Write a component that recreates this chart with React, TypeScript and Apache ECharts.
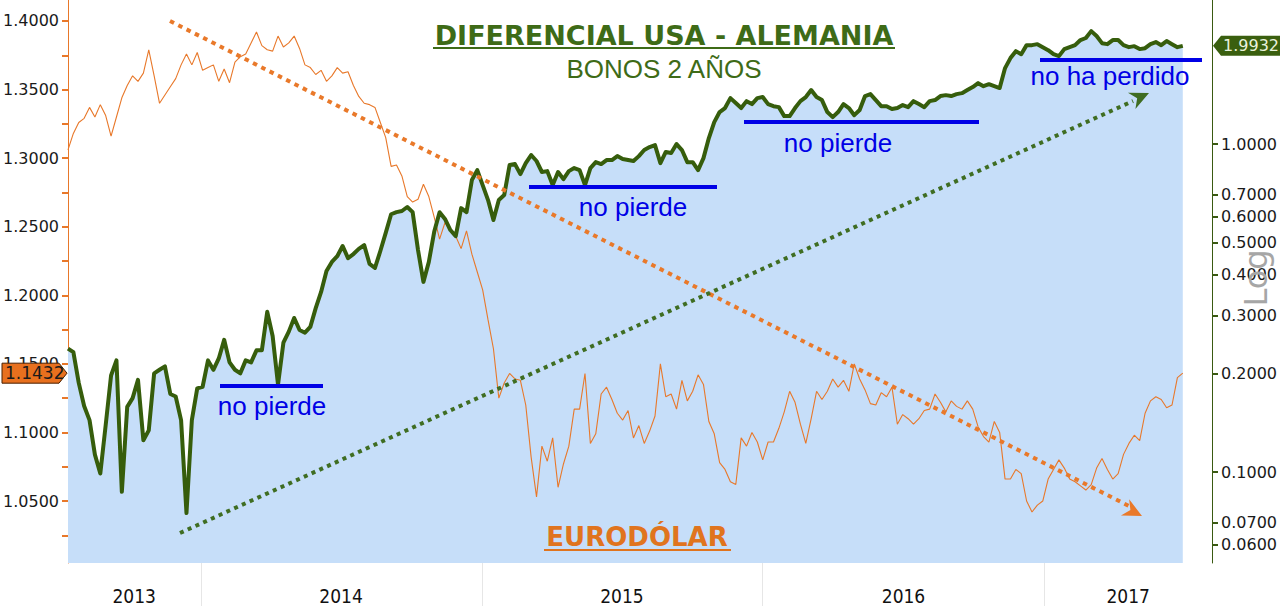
import React, { useEffect, useRef } from "react";
import * as echarts from "echarts";

// ---------- data ----------
const START_DATE = "2013-07-12"; // first weekly observation
const AXIS_END_DATE = "2017-08-07";
const YEAR_LABEL_DATES = ["2013-10-06", "2014-07-02", "2015-07-02", "2016-07-02", "2017-04-20"];
const YEAR_START_DATES = ["2014-01-01", "2015-01-01", "2016-01-01", "2017-01-01"];

const EURUSD_LABELS = [1.05, 1.1, 1.15, 1.2, 1.25, 1.3, 1.35, 1.4];
const EURUSD_MINOR = [1.025, 1.075, 1.125, 1.175, 1.225, 1.275, 1.325, 1.375];
const EURUSD_RANGE = [1.0048, 1.4153];

const SPREAD_LABELS = [0.06, 0.07, 0.1, 0.2, 0.3, 0.4, 0.5, 0.6, 0.7, 1.0];
const SPREAD_RANGE = [0.0528, 2.75];

// US - Germany 2y spread (weekly)
const SPREAD = [
  0.238, 0.232, 0.187, 0.159, 0.144, 0.113, 0.099, 0.139, 0.197, 0.219,
  0.087, 0.158, 0.168, 0.191, 0.125, 0.134, 0.200, 0.205, 0.210, 0.173,
  0.170, 0.144, 0.075, 0.144, 0.180, 0.182, 0.219, 0.205, 0.222, 0.253,
  0.216, 0.205, 0.200, 0.219, 0.216, 0.235, 0.235, 0.308, 0.260, 0.185,
  0.248, 0.268, 0.295, 0.271, 0.266, 0.277, 0.316, 0.354, 0.410, 0.437,
  0.455, 0.489, 0.449, 0.462, 0.479, 0.492, 0.431, 0.419, 0.472, 0.536,
  0.611, 0.620, 0.625, 0.643, 0.620, 0.475, 0.380, 0.437, 0.540, 0.620,
  0.591, 0.547, 0.524, 0.638, 0.620, 0.777, 0.833, 0.750, 0.675, 0.587,
  0.675, 0.699, 0.863, 0.869, 0.810, 0.875, 0.926, 0.888, 0.822, 0.827,
  0.750, 0.822, 0.782, 0.827, 0.845, 0.833, 0.750, 0.845, 0.881, 0.869,
  0.894, 0.894, 0.919, 0.900, 0.894, 0.888, 0.919, 0.959, 0.979, 0.993,
  0.875, 0.946, 0.939, 1.000, 0.959, 0.881, 0.881, 0.833, 0.906, 1.043,
  1.167, 1.252, 1.288, 1.381, 1.334, 1.288, 1.352, 1.324, 1.381, 1.391,
  1.324, 1.305, 1.296, 1.217, 1.217, 1.288, 1.352, 1.391, 1.461, 1.391,
  1.362, 1.252, 1.208, 1.252, 1.324, 1.288, 1.225, 1.270, 1.401, 1.420,
  1.362, 1.305, 1.305, 1.279, 1.288, 1.315, 1.296, 1.352, 1.324, 1.296,
  1.352, 1.362, 1.401, 1.410, 1.401, 1.420, 1.430, 1.461, 1.492, 1.534,
  1.502, 1.523, 1.502, 1.482, 1.705, 1.829, 1.920, 1.880, 2.003, 2.003,
  2.017, 1.975, 1.934, 1.880, 1.854, 1.948, 1.975, 2.003, 2.076, 2.106,
  2.210, 2.135, 2.031, 2.017, 2.076, 2.076, 2.003, 1.975, 1.989, 1.948,
  1.961, 2.017, 2.046, 2.003, 2.061, 2.017, 1.975, 1.9932,
];

// EUR/USD (weekly)
const EURUSD = [
  1.306, 1.318, 1.326, 1.329, 1.337, 1.330, 1.339, 1.331, 1.316, 1.330,
  1.344, 1.353, 1.360, 1.356, 1.362, 1.379, 1.360, 1.340, 1.346, 1.352,
  1.358, 1.368, 1.376, 1.368, 1.377, 1.364, 1.366, 1.368, 1.356, 1.365,
  1.355, 1.370, 1.374, 1.376, 1.384, 1.392, 1.382, 1.379, 1.378, 1.389,
  1.381, 1.384, 1.389, 1.380, 1.368, 1.366, 1.361, 1.364, 1.356, 1.360,
  1.366, 1.362, 1.363, 1.353, 1.345, 1.340, 1.339, 1.337, 1.326, 1.315,
  1.294, 1.295, 1.287, 1.272, 1.268, 1.270, 1.281, 1.272, 1.257, 1.241,
  1.253, 1.248, 1.243, 1.234, 1.247, 1.230, 1.217, 1.204, 1.182, 1.161,
  1.125, 1.136, 1.143, 1.139, 1.138, 1.120, 1.082, 1.053, 1.090, 1.079,
  1.096, 1.060, 1.077, 1.090, 1.117, 1.117, 1.143, 1.092, 1.099, 1.128,
  1.133, 1.124, 1.114, 1.109, 1.116, 1.096, 1.105, 1.092, 1.101, 1.112,
  1.150, 1.126, 1.128, 1.117, 1.138, 1.123, 1.130, 1.142, 1.135, 1.108,
  1.099, 1.078, 1.073, 1.064, 1.062, 1.096, 1.090, 1.100, 1.093, 1.080,
  1.093, 1.093, 1.103, 1.115, 1.130, 1.122, 1.106, 1.092, 1.110, 1.130,
  1.124, 1.130, 1.139, 1.133, 1.138, 1.130, 1.150, 1.139, 1.131, 1.121,
  1.120, 1.129, 1.126, 1.133, 1.106, 1.113, 1.110, 1.106, 1.110, 1.116,
  1.117, 1.128, 1.122, 1.115, 1.123, 1.119, 1.117, 1.123, 1.117, 1.104,
  1.097, 1.093, 1.108, 1.100, 1.066, 1.066, 1.073, 1.070, 1.050, 1.042,
  1.047, 1.050, 1.066, 1.073, 1.080, 1.074, 1.066, 1.064, 1.061, 1.058,
  1.062, 1.074, 1.081, 1.073, 1.066, 1.070, 1.084, 1.092, 1.098, 1.094,
  1.114, 1.123, 1.126, 1.124, 1.118, 1.120, 1.140, 1.1432,
];

// ---------- helpers ----------
const ts = (s: string) => new Date(s + "T00:00:00Z").getTime();
const WEEK = 7 * 86400000;
const L10 = (v: number) => Math.log10(v);

const GREEN = "#365d0c";
const ORANGE = "#e8782a";
const BLUE = "#0000e6";
const AREA = "#c6def9";

export default function App() {
  const ref = useRef<HTMLDivElement>(null);

  useEffect(() => {
    if (!ref.current) return;
    const chart = echarts.init(ref.current, undefined, { renderer: "svg" });
    const t0 = ts(START_DATE);
    const spreadData = SPREAD.map((v, i) => [t0 + i * WEEK, L10(v)]);
    const eurData = EURUSD.map((v, i) => [t0 + i * WEEK, v]);

    chart.setOption({
      animation: false,
      backgroundColor: "#ffffff",
      grid: { left: 67, right: 67, top: 0, bottom: 43 },
      xAxis: {
        type: "value",
        position: "bottom",
        min: ts(START_DATE),
        max: ts(AXIS_END_DATE),
        axisLine: { show: false, onZero: false },
        splitLine: { show: false },
        axisTick: {
          show: true,
          customValues: YEAR_START_DATES.map(ts),
          length: 43,
          lineStyle: { color: "#e6e6e6", width: 1 },
        },
        axisLabel: {
          customValues: YEAR_LABEL_DATES.map(ts),
          formatter: (v: number) => String(new Date(v).getUTCFullYear()),
          color: "#111",
          fontSize: 19,
          fontFamily: "'Liberation Sans Narrow', 'DejaVu Sans Condensed', sans-serif",
          margin: 23,
        },
      },
      yAxis: [
        {
          type: "value",
          position: "left",
          min: EURUSD_RANGE[0],
          max: EURUSD_RANGE[1],
          splitLine: { show: false },
          axisLine: { show: true, onZero: false, lineStyle: { color: ORANGE, width: 1 } },
          axisTick: {
            show: true,
            customValues: [...EURUSD_LABELS, ...EURUSD_MINOR],
            length: 6,
            lineStyle: { color: ORANGE, width: 2 },
          },
          axisLabel: {
            customValues: EURUSD_LABELS,
            formatter: (v: number) => v.toFixed(4),
            color: "#1a1a1a",
            fontSize: 16,
            fontFamily: "'DejaVu Sans', sans-serif",
            margin: 9,
          },
        },
        {
          type: "value",
          position: "right",
          min: L10(SPREAD_RANGE[0]),
          max: L10(SPREAD_RANGE[1]),
          splitLine: { show: false },
          axisLine: { show: true, onZero: false, lineStyle: { color: "#3a5a12", width: 1 } },
          axisTick: {
            show: true,
            customValues: SPREAD_LABELS.map(L10),
            length: 6,
            lineStyle: { color: "#3a5a12", width: 2 },
          },
          axisLabel: {
            customValues: SPREAD_LABELS.map(L10),
            formatter: (v: number) => Math.pow(10, v).toFixed(4),
            color: "#1a1a1a",
            fontSize: 16,
            fontFamily: "'DejaVu Sans', sans-serif",
            margin: 9,
          },
        },
      ],
      series: [
        {
          type: "line",
          yAxisIndex: 1,
          data: spreadData,
          showSymbol: false,
          silent: true,
          lineStyle: { width: 0, color: GREEN },
          areaStyle: { color: AREA, opacity: 1, origin: "start" },
          z: 1,
        },
        {
          type: "line",
          yAxisIndex: 0,
          data: eurData,
          showSymbol: false,
          lineStyle: { width: 1.1, color: ORANGE },
          z: 2,
        },
        {
          type: "line",
          yAxisIndex: 1,
          data: spreadData,
          showSymbol: false,
          lineStyle: { width: 4, color: GREEN, join: "round" },
          z: 3,
        },
      ],
    });

    const lastEur = EURUSD[EURUSD.length - 1];
    const lastSpread = SPREAD[SPREAD.length - 1];
    let yEur = chart.convertToPixel({ yAxisIndex: 0 }, lastEur) as number;
    let ySpr = chart.convertToPixel({ yAxisIndex: 1 }, L10(lastSpread)) as number;
    if (typeof yEur !== "number" || isNaN(yEur)) yEur = 374;
    if (typeof ySpr !== "number" || isNaN(ySpr)) ySpr = 46;

    const txt = (x: number, y: number, text: string, font: string, fill: string, align = "center", extra: any = {}) => ({
      type: "text",
      x,
      y,
      z: 100,
      ...extra,
      style: {
        text,
        font,
        fill,
        align,
        textAlign: align,
        verticalAlign: "middle",
        textVerticalAlign: "middle",
      },
    });
    const seg = (x1: number, y1: number, x2: number, y2: number, stroke: string, lineWidth: number, lineDash?: number[]) => ({
      type: "line",
      z: 90,
      shape: { x1, y1, x2, y2 },
      style: lineDash ? { stroke, lineWidth, lineDash } : { stroke, lineWidth },
    });
    const arrowHead = (xs: number, ys: number, xe: number, ye: number, color: string) => {
      const dx = xe - xs, dy = ye - ys;
      const len = Math.hypot(dx, dy);
      const ux = dx / len, uy = dy / len;
      const px = -uy, py = ux;
      const bx = xe - 19 * ux, by = ye - 19 * uy;
      const nx = xe - 13 * ux, ny = ye - 13 * uy;
      return {
        type: "polygon",
        z: 91,
        shape: {
          points: [
            [xe, ye],
            [bx + 9 * px, by + 9 * py],
            [nx, ny],
            [bx - 9 * px, by - 9 * py],
          ],
        },
        style: { fill: color },
      };
    };

    const OR_TREND = "#e9792a";
    const GR_TREND = "#3f6d22";
    const SANS = "'Liberation Sans', Arial, sans-serif";

    chart.setOption({
      graphic: [
        // titles
        txt(664, 35, "DIFERENCIAL USA - ALEMANIA", "bold 27px 'DejaVu Sans', sans-serif", "#3e6b17"),
        seg(433, 48, 895, 48, "#3e6b17", 2),
        txt(664, 69, "BONOS 2 AÑOS", `26px ${SANS}`, "#3e6b17"),
        txt(637, 537, "EURODÓLAR", "bold 26px 'DejaVu Sans', sans-serif", "#e0741e"),
        seg(544, 550, 731, 550, "#e0741e", 2),
        // trend lines
        seg(170, 21, 1129, 506, OR_TREND, 4, [4.5, 4.8]),
        arrowHead(170, 21, 1142, 516, OR_TREND),
        seg(180, 533, 1133, 101, GR_TREND, 4, [4, 4.5]),
        arrowHead(180, 533, 1149, 93, GR_TREND),
        // "no pierde" annotations
        seg(220, 386, 323, 386, BLUE, 4),
        txt(272, 406, "no pierde", `26px ${SANS}`, BLUE),
        seg(529, 187, 717, 187, BLUE, 4),
        txt(633, 207, "no pierde", `26px ${SANS}`, BLUE),
        seg(744, 122, 979, 122, BLUE, 4),
        txt(838, 143, "no pierde", `26px ${SANS}`, BLUE),
        seg(1040, 60, 1202, 60, BLUE, 4),
        txt(1110, 76, "no ha perdido", `26px ${SANS}`, BLUE),
        // Log label
        txt(1256, 278, "Log", "32px 'DejaVu Sans', sans-serif", "#a6a6a6", "center", { rotation: Math.PI / 2 }),
        // last value markers
        {
          type: "polygon",
          z: 95,
          shape: { points: [[2, yEur - 10], [59, yEur - 10], [67, yEur], [59, yEur + 10], [2, yEur + 10]] },
          style: { fill: "#e8701e", stroke: "#4a2000", lineWidth: 1 },
        },
        txt(5, yEur, lastEur.toFixed(4), "17px 'DejaVu Sans', sans-serif", "#1a1a1a", "left"),
        {
          type: "polygon",
          z: 95,
          shape: { points: [[1213, ySpr], [1221, ySpr - 10], [1280, ySpr - 10], [1280, ySpr + 10], [1221, ySpr + 10]] },
          style: { fill: "#3a5f0f" },
        },
        txt(1223, ySpr, lastSpread.toFixed(4), "16px 'DejaVu Sans', sans-serif", "#e9f2dc", "left"),
      ],
    });

    return () => chart.dispose();
  }, []);

  return (
    <div
      ref={ref}
      style={{ position: "fixed", left: 0, top: 0, width: 1280, height: 606, background: "#fff" }}
    />
  );
}
